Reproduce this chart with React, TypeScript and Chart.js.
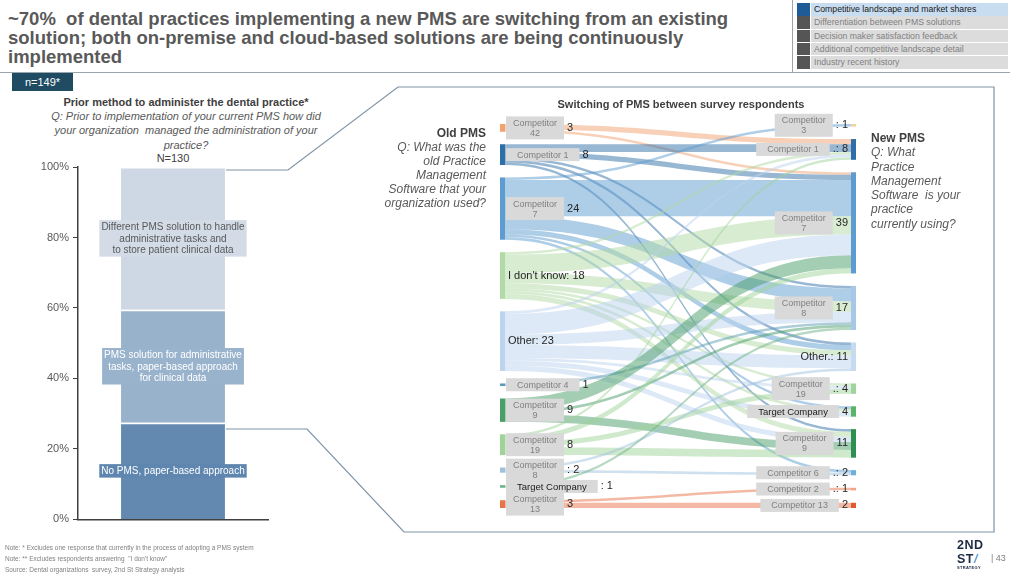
import React, { useEffect, useRef } from "react";
import { Chart, registerables } from "chart.js";

Chart.register(...registerables);

const FONT = '"Liberation Sans", Arial, Helvetica, sans-serif';

// ---------- Left chart: prior method (stacked 100% bar) ----------
const priorCategories = ["Prior method"];
const priorSeries = [
  "No PMS, paper-based approach",
  "PMS solution for administrative tasks, paper-based approach for clinical data",
  "Different PMS solution to handle administrative tasks and to store patient clinical data",
];
const priorLabelLines = [
  ["No PMS, paper-based approach"],
  ["PMS solution for administrative", "tasks, paper-based approach", "for clinical data"],
  ["Different PMS solution to handle", "administrative tasks and", "to store patient clinical data"],
];
const priorShares = [27.4, 32.1, 40.5];
const priorColors = ["#6389b1", "#99b2cc", "#cdd8e4"];
const priorLabelBg = ["#5f86af", "#9ab3cd", "#d2dbe6"];
const priorLabelInk = ["#ffffff", "#ffffff", "#595959"];
const yTickValues = [0, 20, 40, 60, 80, 100];

// ---------- Right chart: switching of PMS (sankey) ----------
const oldNodes = [
  "Competitor 42", "Competitor 1", "Competitor 7", "I don't know", "Other", "Competitor 4",
  "Competitor 9", "Competitor 19", "Competitor 8", "Target Company", "Competitor 13",
];
const oldValues = [3, 8, 24, 18, 23, 1, 9, 8, 2, 1, 3];
const oldColors = [
  "#f2a26f", "#2f6fa7", "#5e9bd0", "#b2daa4", "#bcd4ee", "#5b9bb5",
  "#4a9e68", "#9fd39a", "#9fc2de", "#6fb389", "#e8744a",
];
const oldBoxText = [
  "Competitor\n42", "Competitor 1", "Competitor\n7", "", "", "Competitor 4",
  "Competitor\n9", "Competitor\n19", "Competitor\n8", "Target Company", "Competitor\n13",
];
const oldValuePrefix = ["", "", "", ": ", ": ", "", "", "", ": ", ": ", ""];

const newNodes = [
  "Competitor 3", "Competitor 1", "Competitor 7", "Competitor 8", "Other", "Competitor 19",
  "Target Company", "Competitor 9", "Competitor 6", "Competitor 2", "Competitor 13",
];
const newValues = [1, 8, 39, 17, 11, 4, 4, 11, 2, 1, 2];
const newColors = [
  "#f3d3a0", "#2f6fa7", "#5e9bd0", "#a6c8e6", "#c6dbef", "#9fd49b",
  "#5bb36a", "#2f8f50", "#6fb0d8", "#f2a383", "#e0592b",
];
const newBoxText = [
  "Competitor\n3", "Competitor 1", "Competitor\n7", "Competitor\n8", "", "Competitor\n19",
  "Target Company", "Competitor\n9", "Competitor 6", "Competitor 2", "Competitor 13",
];
const newValuePrefix = [": ", ".: ", "", "", ".: ", ".: ", "", "", ".: ", ".: ", ""];

// [old PMS, new PMS, respondents]
const flows: [string, string, number][] = [
  ["Competitor 42", "Competitor 1", 2],
  ["Competitor 42", "Competitor 7", 1],
  ["Competitor 1", "Competitor 1", 3],
  ["Competitor 1", "Competitor 7", 2],
  ["Competitor 1", "Competitor 8", 1],
  ["Competitor 1", "Other", 1],
  ["Competitor 1", "Competitor 9", 1],
  ["Competitor 7", "Competitor 3", 1],
  ["Competitor 7", "Competitor 7", 14],
  ["Competitor 7", "Competitor 8", 5],
  ["Competitor 7", "Other", 2],
  ["Competitor 7", "Target Company", 1],
  ["Competitor 7", "Competitor 6", 1],
  ["I don't know", "Competitor 1", 1],
  ["I don't know", "Competitor 7", 7],
  ["I don't know", "Competitor 8", 4],
  ["I don't know", "Other", 2],
  ["I don't know", "Competitor 19", 1],
  ["I don't know", "Target Company", 1],
  ["I don't know", "Competitor 9", 2],
  ["Other", "Competitor 1", 1],
  ["Other", "Competitor 7", 8],
  ["Other", "Competitor 8", 4],
  ["Other", "Other", 5],
  ["Other", "Competitor 19", 1],
  ["Other", "Target Company", 2],
  ["Other", "Competitor 9", 2],
  ["Competitor 4", "Competitor 8", 1],
  ["Competitor 9", "Competitor 7", 5],
  ["Competitor 9", "Competitor 8", 1],
  ["Competitor 9", "Competitor 9", 3],
  ["Competitor 19", "Competitor 1", 1],
  ["Competitor 19", "Competitor 7", 2],
  ["Competitor 19", "Competitor 19", 2],
  ["Competitor 19", "Competitor 9", 3],
  ["Competitor 8", "Other", 1],
  ["Competitor 8", "Competitor 6", 1],
  ["Target Company", "Competitor 8", 1],
  ["Competitor 13", "Competitor 2", 1],
  ["Competitor 13", "Competitor 13", 2],
];

const NODE_GAP = 4.8; // gap between nodes, in respondent units
const FLOW_ALPHA = 0.5;
const NODE_W = 5;

const navItems = [
  "Competitive landscape and market shares",
  "Differentiation between PMS solutions",
  "Decision maker satisfaction feedback",
  "Additional competitive landscape detail",
  "Industry recent history",
];

function rgba(hex: string, a: number) {
  const n = parseInt(hex.slice(1), 16);
  return `rgba(${(n >> 16) & 255},${(n >> 8) & 255},${n & 255},${a})`;
}

function stackStarts(values: number[]) {
  let acc = 0;
  return values.map((v) => {
    const s = acc;
    acc += v + NODE_GAP;
    return s;
  });
}

const barLabelPlugin = {
  id: "barLabels",
  afterDatasetsDraw(chart: any) {
    const ctx = chart.ctx;
    ctx.save();
    ctx.font = `10px ${FONT}`;
    ctx.textAlign = "center";
    ctx.textBaseline = "middle";
    chart.data.datasets.forEach((_: any, i: number) => {
      const meta = chart.getDatasetMeta(i);
      const bar = meta.data[0];
      if (!bar) return;
      const cy = (bar.y + bar.base) / 2;
      const lines = priorLabelLines[i];
      const lh = 11.5;
      const w = Math.max(...lines.map((l) => ctx.measureText(l).width)) + 4;
      const h = lines.length * lh + 2;
      ctx.fillStyle = priorLabelBg[i];
      ctx.fillRect(bar.x - w / 2, cy - h / 2, w, h);
      ctx.fillStyle = priorLabelInk[i];
      lines.forEach((l, k) => {
        ctx.fillText(l, bar.x, cy - ((lines.length - 1) * lh) / 2 + k * lh + 0.5);
      });
    });
    ctx.restore();
  },
};

function drawBox(ctx: CanvasRenderingContext2D, text: string, x: number, cy: number, alignRight: boolean, dark: boolean) {
  const lines = text.split("\n");
  ctx.font = `${dark ? 9.5 : 9}px ${FONT}`;
  const tw = Math.max(...lines.map((l) => ctx.measureText(l).width));
  const w = tw + (lines.length > 1 ? 14 : 22);
  const lh = 10;
  const h = lines.length * lh + 3;
  const left = alignRight ? x - w : x;
  ctx.fillStyle = "#d9d9d9";
  ctx.fillRect(left, cy - h / 2, w, h);
  ctx.fillStyle = dark ? "#1a1a1a" : "#808080";
  ctx.textAlign = "center";
  ctx.textBaseline = "middle";
  lines.forEach((l, k) => {
    ctx.fillText(l, left + w / 2, cy - ((lines.length - 1) * lh) / 2 + k * lh + 0.5);
  });
  return w;
}

const sankeyPlugin = {
  id: "sankeyDraw",
  afterDraw(chart: any) {
    const { ctx } = chart;
    const xs = chart.scales.x;
    const ys = chart.scales.y;
    const oldStart = stackStarts(oldValues);
    const newStart = stackStarts(newValues);
    const outOff = oldValues.map(() => 0);
    const inOff = newValues.map(() => 0);
    const fl = flows.map(([f, t, v]) => ({ s: oldNodes.indexOf(f), t: newNodes.indexOf(t), v, sy: 0, ty: 0 }));
    const bySource = [...fl].sort((a, b) => a.s - b.s || a.t - b.t);
    bySource.forEach((f) => {
      f.sy = oldStart[f.s] + outOff[f.s];
      outOff[f.s] += f.v;
    });
    const byTarget = [...fl].sort((a, b) => a.t - b.t || a.s - b.s);
    byTarget.forEach((f) => {
      f.ty = newStart[f.t] + inOff[f.t];
      inOff[f.t] += f.v;
    });
    const xl = xs.getPixelForValue(0);
    const xr = xs.getPixelForValue(1);
    const x0 = xl + NODE_W;
    const x1 = xr - NODE_W;
    const xm = (x0 + x1) / 2;
    ctx.save();
    bySource.forEach((f) => {
      const a0 = ys.getPixelForValue(f.sy);
      const a1 = ys.getPixelForValue(f.sy + f.v);
      const b0 = ys.getPixelForValue(f.ty);
      const b1 = ys.getPixelForValue(f.ty + f.v);
      ctx.beginPath();
      ctx.moveTo(x0, a0);
      ctx.bezierCurveTo(xm, a0, xm, b0, x1, b0);
      ctx.lineTo(x1, b1);
      ctx.bezierCurveTo(xm, b1, xm, a1, x0, a1);
      ctx.closePath();
      ctx.fillStyle = rgba(oldColors[f.s], FLOW_ALPHA);
      ctx.fill();
    });
    // nodes
    oldValues.forEach((v, i) => {
      const t = ys.getPixelForValue(oldStart[i]);
      const b = ys.getPixelForValue(oldStart[i] + v);
      ctx.fillStyle = oldColors[i];
      ctx.fillRect(xl, t, NODE_W, Math.max(b - t, 1.5));
    });
    newValues.forEach((v, i) => {
      const t = ys.getPixelForValue(newStart[i]);
      const b = ys.getPixelForValue(newStart[i] + v);
      ctx.fillStyle = newColors[i];
      ctx.fillRect(xr - NODE_W, t, NODE_W, Math.max(b - t, 1.5));
    });
    // left labels
    oldValues.forEach((v, i) => {
      const cy = (ys.getPixelForValue(oldStart[i]) + ys.getPixelForValue(oldStart[i] + v)) / 2;
      const valText = `${oldValuePrefix[i]}${v}`;
      if (!oldBoxText[i]) {
        ctx.font = `11px ${FONT}`;
        ctx.fillStyle = "#262626";
        ctx.textAlign = "left";
        ctx.textBaseline = "middle";
        ctx.fillText(`${oldNodes[i]}${valText}`, x0 + 3, cy);
        return;
      }
      const w = drawBox(ctx, oldBoxText[i], x0 + 1, cy, false, oldNodes[i] === "Target Company");
      ctx.font = `11px ${FONT}`;
      ctx.fillStyle = "#262626";
      ctx.textAlign = "left";
      ctx.textBaseline = "middle";
      ctx.fillText(valText, x0 + 1 + w + 3, cy);
    });
    // right labels
    newValues.forEach((v, i) => {
      const cy = (ys.getPixelForValue(newStart[i]) + ys.getPixelForValue(newStart[i] + v)) / 2;
      const valText = `${newValuePrefix[i]}${v}`;
      ctx.font = `11px ${FONT}`;
      ctx.fillStyle = "#262626";
      ctx.textAlign = "right";
      ctx.textBaseline = "middle";
      if (!newBoxText[i]) {
        ctx.fillText(`${newNodes[i]}${valText}`, x1 - 3, cy);
        return;
      }
      ctx.fillText(valText, x1 - 3, cy);
      const vw = ctx.measureText(valText).width;
      drawBox(ctx, newBoxText[i], x1 - 3 - vw - 3, cy, true, newNodes[i] === "Target Company");
    });
    ctx.restore();
  },
};

function PriorChart() {
  const ref = useRef<HTMLCanvasElement>(null);
  useEffect(() => {
    const chart = new Chart(ref.current!, {
      type: "bar",
      data: {
        labels: priorCategories,
        datasets: priorSeries.map((label, i) => ({
          label,
          data: [priorShares[i]],
          backgroundColor: priorColors[i],
          borderColor: "#ffffff",
          borderWidth: { top: 1.5, bottom: 0, left: 0, right: 0 },
          borderSkipped: false,
          barPercentage: 0.547,
          categoryPercentage: 1,
        })),
      },
      options: {
        responsive: false,
        animation: false,
        devicePixelRatio: 1,
        layout: { padding: { top: 17, bottom: 5, left: 0, right: 7 } },
        plugins: { legend: { display: false }, tooltip: { enabled: false }, title: { display: false } },
        scales: {
          x: {
            stacked: true,
            grid: { display: false, drawTicks: false },
            ticks: { display: false },
            border: { display: true, color: "#404040", width: 1.5 },
          },
          y: {
            stacked: true,
            min: 0,
            max: 100,
            afterFit: (s: any) => {
              s.width = 78;
            },
            afterBuildTicks: (s: any) => {
              s.ticks = yTickValues.map((v) => ({ value: v }));
            },
            grid: { drawOnChartArea: false, drawTicks: true, tickLength: 5, color: "#404040", lineWidth: 1 },
            border: { display: true, color: "#404040", width: 1.5 },
            ticks: {
              color: "#595959",
              font: { family: FONT, size: 11 },
              padding: 4,
              callback: (v: any) => `${v}%`,
            },
          },
        },
      },
      plugins: [barLabelPlugin],
    });
    return () => chart.destroy();
  }, []);
  return <canvas ref={ref} width={275} height={380} style={{ position: "absolute", left: 0, top: 150 }} />;
}

function SankeyChart() {
  const ref = useRef<HTMLCanvasElement>(null);
  useEffect(() => {
    const total = oldValues.reduce((a, b) => a + b, 0) + NODE_GAP * (oldValues.length - 1);
    const chart = new Chart(ref.current!, {
      type: "scatter",
      data: { datasets: [] },
      options: {
        responsive: false,
        animation: false,
        devicePixelRatio: 1,
        layout: { padding: { top: 34, bottom: 22, left: 120, right: 134 } },
        plugins: { legend: { display: false }, tooltip: { enabled: false }, title: { display: false } },
        scales: {
          x: { type: "linear", min: 0, max: 1, display: false },
          y: { type: "linear", min: 0, max: total, reverse: true, display: false },
        },
      },
      plugins: [sankeyPlugin],
    });
    return () => chart.destroy();
  }, []);
  return <canvas ref={ref} width={610} height={440} style={{ position: "absolute", left: 380, top: 90 }} />;
}

const abs = (s: React.CSSProperties): React.CSSProperties => ({ position: "absolute", whiteSpace: "nowrap", ...s });

export default function App() {
  useEffect(() => {
    document.body.style.margin = "0";
  }, []);
  return (
    <div
      style={{
        position: "absolute",
        left: 0,
        top: 0,
        width: 1024,
        height: 576,
        background: "#ffffff",
        overflow: "hidden",
        fontFamily: FONT,
      }}
    >
      {/* Title */}
      <div style={abs({ left: 8, top: 9, fontSize: 18.5, fontWeight: "bold", color: "#595959", lineHeight: "19px" })}>
        ~70%&nbsp; of dental practices implementing a new PMS are switching from an existing
        <br />
        solution; both on-premise and cloud-based solutions are being continuously
        <br />
        implemented
      </div>
      <div style={abs({ left: 0, top: 72, width: 1010, height: 1, background: "#9aa5ae" })} />
      <div style={abs({ left: 792, top: 0, width: 1, height: 72, background: "#9aa5ae" })} />
      {/* Nav */}
      {navItems.map((t, i) => (
        <div key={t}>
          <div style={abs({ left: 797, top: 3 + i * 13.3, width: 13, height: 12.5, background: i === 0 ? "#1f5b96" : "#555555" })} />
          <div
            style={abs({
              left: 811,
              top: 3 + i * 13.3,
              width: 197,
              height: 12.5,
              background: i === 0 ? "#c9ddf0" : "#dcdcdc",
              color: i === 0 ? "#1a1a1a" : "#808080",
              fontSize: 8.7,
              lineHeight: "12.5px",
              paddingLeft: 3,
              boxSizing: "border-box",
            })}
          >
            {t}
          </div>
        </div>
      ))}
      {/* n badge */}
      <div
        style={abs({
          left: 12,
          top: 73,
          width: 61,
          height: 18,
          background: "#1f4b63",
          color: "#ffffff",
          fontSize: 11,
          lineHeight: "18px",
          textAlign: "center",
        })}
      >
        n=149*
      </div>
      {/* Left chart headings */}
      <div style={abs({ left: 36, top: 95, width: 300, textAlign: "center", fontSize: 11, fontWeight: "bold", color: "#404040", lineHeight: "14px" })}>
        Prior method to administer the dental practice*
      </div>
      <div style={abs({ left: 36, top: 109, width: 300, textAlign: "center", fontSize: 11, fontStyle: "italic", color: "#595959", lineHeight: "14.3px" })}>
        Q: Prior to implementation of your current PMS how did
        <br />
        your organization&nbsp; managed the administration of your
        <br />
        practice?
      </div>
      <div style={abs({ left: 123, top: 151, width: 100, textAlign: "center", fontSize: 11, color: "#404040", lineHeight: "14px" })}>
        N=130
      </div>
      <PriorChart />
      {/* Connector lines and frame */}
      <svg width={1024} height={576} style={{ position: "absolute", left: 0, top: 0, pointerEvents: "none" }}>
        <polyline points="226,170 288,170 398,87 994,87 994,532 404,532 307,429 226,429" fill="none" stroke="#7e93a6" strokeWidth={1.2} />
      </svg>
      {/* Sankey headings */}
      <div style={abs({ left: 481, top: 97, width: 400, textAlign: "center", fontSize: 11, fontWeight: "bold", color: "#404040", lineHeight: "14px" })}>
        Switching of PMS between survey respondents
      </div>
      <div style={abs({ left: 366, top: 126, width: 120, textAlign: "right", fontSize: 12, color: "#595959", lineHeight: "14px" })}>
        <b style={{ color: "#404040" }}>Old PMS</b>
        <br />
        <i>
          Q: What was the
          <br />
          old Practice
          <br />
          Management
          <br />
          Software that your
          <br />
          organization used?
        </i>
      </div>
      <SankeyChart />
      <div style={abs({ left: 871, top: 131, width: 110, textAlign: "left", fontSize: 12, color: "#595959", lineHeight: "14.3px" })}>
        <b style={{ color: "#404040" }}>New PMS</b>
        <br />
        <i>
          Q: What
          <br />
          Practice
          <br />
          Management
          <br />
          Software&nbsp; is your
          <br />
          practice
          <br />
          currently using?
        </i>
      </div>
      {/* Footer */}
      <div style={abs({ left: 5, top: 542, fontSize: 6.5, color: "#808080", lineHeight: "11px" })}>
        Note: * Excludes one response that currently in the process of adopting a PMS system
        <br />
        Note: ** Excludes respondents answering&nbsp; "I don't know"
        <br />
        Source: Dental organizations&nbsp; survey, 2nd St Strategy analysis
      </div>
      <div style={abs({ left: 957, top: 538, fontSize: 12.5, fontWeight: "bold", color: "#1c2a44", lineHeight: "14px", letterSpacing: 0.5 })}>
        2ND
        <br />
        ST<span style={{ color: "#5aa0dc", fontStyle: "italic" }}>/</span>
      </div>
      <div style={abs({ left: 957, top: 565, fontSize: 4, fontWeight: "bold", color: "#1c2a44", lineHeight: "5px", letterSpacing: 0.3 })}>
        STRATEGY
      </div>
      <div style={abs({ left: 991, top: 553, fontSize: 9, color: "#808080", lineHeight: "11px" })}>| 43</div>
    </div>
  );
}
